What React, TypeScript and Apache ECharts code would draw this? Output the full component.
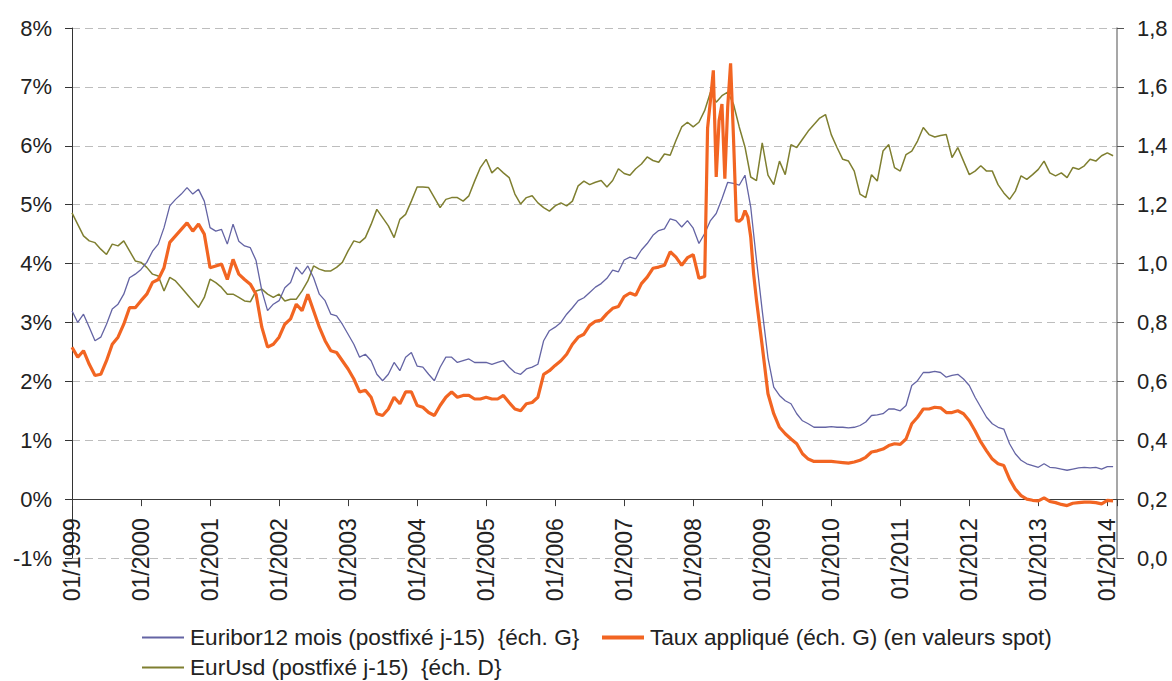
import React, { useEffect, useRef } from "react";
import * as echarts from "echarts";

// Monthly series, first value = 01/1999, one value per month
const START_YEAR = 1999;
const END_X = 2014.14;

const NAME_EURIBOR = "Euribor12 mois (postfixé j-15)  {éch. G}";
const NAME_TAUX = "Taux appliqué (éch. G) (en valeurs spot)";
const NAME_EURUSD = "EurUsd (postfixé j-15)  {éch. D}";

// Euribor 12 mois (%), months 0..181
const euribor = [
  3.2, 3.0, 3.14, 2.92, 2.69, 2.75, 2.97, 3.23, 3.31, 3.48, 3.76, 3.82,
  3.9, 4.02, 4.21, 4.33, 4.61, 4.98, 5.09, 5.18, 5.29, 5.18, 5.26, 5.06,
  4.61, 4.55, 4.58, 4.33, 4.67, 4.38, 4.3, 4.27, 4.05, 3.54, 3.2, 3.31,
  3.37, 3.59, 3.68, 3.94, 3.82, 3.96, 3.76, 3.48, 3.37, 3.14, 3.11, 2.97,
  2.8, 2.63, 2.41, 2.46, 2.35, 2.12, 2.01, 2.12, 2.32, 2.18, 2.41, 2.49,
  2.26, 2.24, 2.12, 2.01, 2.24, 2.41, 2.41, 2.32, 2.35, 2.38, 2.32, 2.32,
  2.32, 2.29, 2.32, 2.35, 2.24, 2.15, 2.12, 2.21, 2.24, 2.29, 2.69, 2.86,
  2.92, 3.0, 3.14, 3.25, 3.37, 3.42, 3.51, 3.6, 3.66, 3.75, 3.89, 3.86,
  4.06, 4.11, 4.08, 4.23, 4.34, 4.48, 4.56, 4.59, 4.76, 4.73, 4.62, 4.73,
  4.6, 4.34, 4.51, 4.73, 4.85, 5.1, 5.38, 5.36, 5.33, 5.5, 4.96, 4.06,
  3.2, 2.4, 1.9, 1.76, 1.67, 1.62, 1.45, 1.33, 1.28, 1.22, 1.22, 1.22,
  1.23, 1.22, 1.22, 1.21, 1.22, 1.25, 1.31, 1.42, 1.43, 1.45, 1.53, 1.53,
  1.5, 1.59, 1.93, 2.01, 2.15, 2.15, 2.17, 2.15, 2.07, 2.1, 2.12, 2.04,
  1.93, 1.73, 1.56, 1.39, 1.28, 1.22, 1.19, 0.94, 0.77, 0.66, 0.6, 0.57,
  0.54, 0.6, 0.54, 0.53, 0.51, 0.49, 0.51, 0.53, 0.54, 0.53, 0.54, 0.51,
  0.55, 0.55,
];

// Taux appliqué (%), months 0..109
const tauxBefore = [
  2.58, 2.41, 2.52, 2.29, 2.1, 2.12, 2.35, 2.63, 2.75, 2.97, 3.25, 3.25,
  3.37, 3.48, 3.68, 3.73, 3.93, 4.36, 4.47, 4.58, 4.69, 4.55, 4.67, 4.5,
  3.93, 3.96, 3.99, 3.73, 4.07, 3.82, 3.73, 3.65, 3.48, 2.92, 2.58, 2.63,
  2.75, 2.97, 3.06, 3.31, 3.2, 3.48, 3.2, 2.92, 2.69, 2.52, 2.49, 2.35,
  2.21, 2.04, 1.82, 1.85, 1.73, 1.45, 1.42, 1.53, 1.73, 1.62, 1.82, 1.82,
  1.59, 1.56, 1.47, 1.42, 1.59, 1.73, 1.82, 1.73, 1.76, 1.76, 1.7, 1.7,
  1.73, 1.7, 1.7, 1.76, 1.64, 1.53, 1.5, 1.62, 1.64, 1.73, 2.12, 2.18,
  2.27, 2.35, 2.46, 2.63, 2.75, 2.8, 2.95, 3.02, 3.04, 3.15, 3.24, 3.27,
  3.44, 3.5, 3.46, 3.66, 3.77, 3.92, 3.94, 3.97, 4.2, 4.11, 3.97, 4.1,
  4.15, 3.75,
];
// Taux appliqué (%), half-month steps from month 110 (03/2008) to 118.5
const tauxDetail2008 = [
  3.78, 6.3, 6.77, 7.28, 5.47, 6.43, 6.71, 5.44, 6.66, 7.4, 6.15, 4.73,
  4.72, 4.76, 4.9, 4.79, 4.45, 3.83,
];
// Taux appliqué (%), months 119..181
const tauxAfter = [
  3.38, 2.6, 1.79, 1.45, 1.22, 1.11, 1.02, 0.94, 0.77, 0.68, 0.64, 0.64,
  0.64, 0.64, 0.63, 0.62, 0.61, 0.63, 0.66, 0.71, 0.8, 0.82, 0.85, 0.91,
  0.94, 0.93, 1.02, 1.28, 1.39, 1.53, 1.53, 1.56, 1.55, 1.47, 1.47, 1.5,
  1.45, 1.33, 1.16, 0.97, 0.82, 0.68, 0.6, 0.57, 0.34, 0.17, 0.06, 0.0,
  -0.02, -0.03, 0.02, -0.04, -0.06, -0.09, -0.11, -0.07, -0.06, -0.05, -0.05, -0.06,
  -0.08, -0.02, -0.03,
];

// EurUsd, months 0..181
const eurUsd = [
  1.172, 1.133, 1.094, 1.077, 1.071, 1.049, 1.031, 1.066, 1.06, 1.077, 1.043, 1.009,
  1.004, 0.987, 0.964, 0.958, 0.907, 0.953, 0.941, 0.919, 0.896, 0.873, 0.851, 0.885,
  0.947, 0.935, 0.919, 0.896, 0.896, 0.885, 0.873, 0.87, 0.907, 0.913, 0.896, 0.885,
  0.896, 0.873, 0.879, 0.879, 0.907, 0.941, 0.992, 0.981, 0.975, 0.975, 0.987, 1.004,
  1.043, 1.077, 1.071, 1.088, 1.133, 1.184, 1.156, 1.128, 1.088, 1.15, 1.167, 1.212,
  1.26, 1.26, 1.258, 1.224, 1.19, 1.218, 1.224, 1.224, 1.212, 1.23, 1.28, 1.326,
  1.354, 1.308, 1.326, 1.308, 1.292, 1.236, 1.202, 1.224, 1.23, 1.206, 1.19, 1.178,
  1.196, 1.206, 1.196, 1.212, 1.264, 1.28, 1.268, 1.276, 1.282, 1.26, 1.282, 1.322,
  1.306, 1.3, 1.322, 1.338, 1.362, 1.35, 1.344, 1.372, 1.368, 1.418, 1.464, 1.48,
  1.464, 1.48, 1.52, 1.582, 1.548, 1.57, 1.582, 1.542, 1.464, 1.396, 1.294, 1.282,
  1.41, 1.3, 1.268, 1.348, 1.302, 1.404, 1.394, 1.422, 1.45, 1.472, 1.494, 1.506,
  1.438, 1.394, 1.354, 1.348, 1.314, 1.236, 1.224, 1.302, 1.28, 1.382, 1.404, 1.326,
  1.314, 1.37, 1.382, 1.416, 1.462, 1.438, 1.43, 1.435, 1.438, 1.36, 1.394, 1.348,
  1.302, 1.314, 1.332, 1.314, 1.314, 1.268, 1.24, 1.218, 1.246, 1.298, 1.286, 1.302,
  1.32, 1.348, 1.308, 1.298, 1.308, 1.292, 1.326, 1.32, 1.332, 1.354, 1.348, 1.366,
  1.376, 1.366,
];

const Y_MIN = -1;
const Y_MAX = 8;

const monthX = (i: number) => START_YEAR + i / 12;

function buildMonthly(values: number[], startMonth: number) {
  return values.map((v, k) => [monthX(startMonth + k), v]);
}

function buildTaux() {
  const pts: number[][] = [];
  pts.push(...buildMonthly(tauxBefore, 0));
  tauxDetail2008.forEach((v, k) => pts.push([monthX(110 + k / 2), v]));
  pts.push(...buildMonthly(tauxAfter, 119));
  return pts;
}

const FONT = "'Liberation Sans', Arial, Helvetica, sans-serif";
const TEXT = "#222222";

const GRID_TOP = 28;
const GRID_BOTTOM = 123;
const CHART_H = 681;

export default function App() {
  const ref = useRef<HTMLDivElement>(null);

  useEffect(() => {
    document.body.style.margin = "0";
    if (!ref.current) return;
    const chart = echarts.init(ref.current, undefined, { renderer: "svg" });

    // place the x axis on the 0% level of the left axis
    const gridH = CHART_H - GRID_TOP - GRID_BOTTOM;
    const zeroOffset = -(gridH * (0 - Y_MIN)) / (Y_MAX - Y_MIN);

    const legendBase = {
      itemWidth: 42,
      itemGap: 0,
      padding: 0,
      icon: "rect",
      selectedMode: false,
      itemStyle: { borderWidth: 0 },
      textStyle: {
        fontSize: 22.6,
        lineHeight: 22,
        color: TEXT,
        fontFamily: FONT,
        padding: [0, 0, 0, 1],
      },
    };

    chart.setOption({
      animation: false,
      backgroundColor: "#ffffff",
      textStyle: { fontFamily: FONT },
      grid: { left: 72, right: 55, top: GRID_TOP, bottom: GRID_BOTTOM, containLabel: false },
      xAxis: {
        type: "value",
        min: START_YEAR,
        max: END_X,
        interval: 1,
        position: "bottom",
        offset: zeroOffset,
        axisLine: {
          onZero: false,
          lineStyle: { color: "#3c3c3c", width: 1 },
        },
        axisTick: { show: true, length: 7, lineStyle: { color: "#3c3c3c" } },
        axisLabel: {
          rotate: 90,
          margin: 19,
          fontSize: 23,
          color: TEXT,
          fontFamily: FONT,
          formatter: (v: number) =>
            Math.abs(v - Math.round(v)) < 1e-6 ? "01/" + Math.round(v) : "",
        },
        splitLine: { show: false },
      },
      yAxis: [
        {
          type: "value",
          position: "left",
          min: Y_MIN,
          max: Y_MAX,
          interval: 1,
          axisLine: { show: true, onZero: false, lineStyle: { color: "#333333", width: 1 } },
          axisTick: { show: true, length: 7, lineStyle: { color: "#333333" } },
          axisLabel: {
            fontSize: 22,
            margin: 20,
            color: TEXT,
            fontFamily: FONT,
            formatter: (v: number) => Math.round(v) + "%",
          },
          splitLine: {
            show: true,
            lineStyle: { color: "#bdbdbd", width: 1, type: [8, 5] },
          },
        },
        {
          type: "value",
          position: "right",
          min: 0,
          max: 1.8,
          interval: 0.2,
          axisLine: { show: true, onZero: false, lineStyle: { color: "#8a8a8a", width: 1.5 } },
          axisTick: { show: true, length: 7, lineStyle: { color: "#555555" } },
          axisLabel: {
            fontSize: 22,
            margin: 20,
            color: TEXT,
            fontFamily: FONT,
            formatter: (v: number) => v.toFixed(1).replace(".", ","),
          },
          splitLine: { show: false },
        },
      ],
      legend: [
        { ...legendBase, itemHeight: 2, left: 142, top: 626, data: [NAME_EURIBOR] },
        { ...legendBase, itemHeight: 4, left: 602, top: 626, data: [NAME_TAUX] },
        { ...legendBase, itemHeight: 2, left: 142, top: 656, data: [NAME_EURUSD] },
      ],
      series: [
        {
          name: NAME_EURUSD,
          type: "line",
          yAxisIndex: 1,
          data: buildMonthly(eurUsd, 0),
          symbol: "none",
          silent: true,
          color: "#7f7f30",
          lineStyle: { color: "#7f7f30", width: 1.5 },
          z: 2,
        },
        {
          name: NAME_EURIBOR,
          type: "line",
          yAxisIndex: 0,
          data: buildMonthly(euribor, 0),
          symbol: "none",
          silent: true,
          color: "#6464a4",
          lineStyle: { color: "#6464a4", width: 1.3 },
          z: 3,
        },
        {
          name: NAME_TAUX,
          type: "line",
          yAxisIndex: 0,
          data: buildTaux(),
          symbol: "none",
          silent: true,
          color: "#f26522",
          lineStyle: { color: "#f26522", width: 3.2 },
          z: 4,
        },
      ],
    });

    return () => chart.dispose();
  }, []);

  return (
    <div
      ref={ref}
      style={{ position: "absolute", left: 0, top: 0, width: 1172, height: 681 }}
    />
  );
}
